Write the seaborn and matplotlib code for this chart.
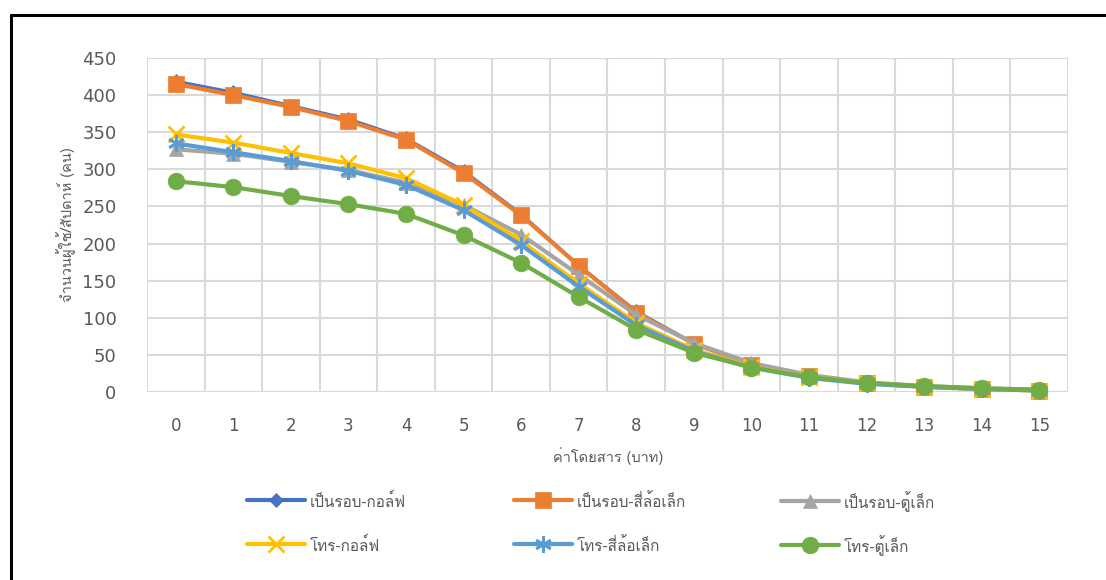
import matplotlib
matplotlib.use("Agg")
import matplotlib.pyplot as plt
from matplotlib import font_manager
from matplotlib.ft2font import FT2Font
from matplotlib.lines import Line2D
from matplotlib.ticker import MultipleLocator
import numpy as np
import pandas as pd
import seaborn as sns

# Fare levels (baht) and weekly riders for each scheme/vehicle combination
fares = list(range(16))
series_names = [
    "เป็นรอบ-กอล์ฟ", "เป็นรอบ-สี่ล้อเล็ก", "เป็นรอบ-ตู้เล็ก",
    "โทร-กอล์ฟ", "โทร-สี่ล้อเล็ก", "โทร-ตู้เล็ก",
]
round_golf = [419, 404, 386, 368, 342, 298, 240, 171, 109, 66, 38, 22, 13, 8, 4, 2]
round_pickup = [415, 400, 384, 365, 340, 295, 238, 170, 107, 65, 37, 21, 12, 7, 4, 2]
round_van = [327, 321, 310, 299, 282, 252, 212, 158, 104, 66, 39, 23, 13, 8, 5, 3]
call_golf = [347, 336, 322, 308, 288, 252, 203, 146, 93, 57, 34, 20, 12, 7, 4, 2]
call_pickup = [335, 323, 311, 298, 279, 245, 198, 142, 90, 55, 33, 19, 11, 7, 4, 2]
call_van = [284, 276, 264, 253, 240, 211, 174, 128, 84, 53, 33, 20, 12, 8, 5, 3]
all_series = [round_golf, round_pickup, round_van, call_golf, call_pickup, call_van]

x_label = "ค่าโดยสาร (บาท)"
y_label = "จำนวนผู้ใช้/สัปดาห์ (คน)"

colors = ["#4472C4", "#ED7D31", "#A5A5A5", "#FFC000", "#5B9BD5", "#70AD47"]
# Asterisk marker: six thin arms
markers = ["D", "s", "^", "x", (6, 2, 0), "o"]
marker_sizes = [7, 11, 10, 11, 12, 12]
edge_widths = [0.5, 0.5, 0.5, 2.0, 2.0, 0.5]
line_widths = [2.0, 3.0, 3.0, 3.0, 3.0, 3.0]

sns.set_theme(style="white")


def pick_thai_font():
    """Return the first installed family that covers Thai script."""
    preferred = []
    others = []
    for f in font_manager.fontManager.ttflist:
        try:
            cmap = FT2Font(f.fname).get_charmap()
        except Exception:
            continue
        if 0x0E01 in cmap and 0x0E49 in cmap:
            if "sans" in f.name.lower() or "loma" in f.name.lower():
                preferred.append(f.name)
            else:
                others.append(f.name)
    for group in (preferred, others):
        if group:
            return group[0]
    return None


thai_font = pick_thai_font()
families = ([thai_font] if thai_font else []) + ["DejaVu Sans"]
plt.rcParams["font.family"] = families

text_gray = "#595959"
grid_gray = "#D9D9D9"

df = pd.DataFrame({"fare": fares})
for name, vals in zip(series_names, all_series):
    df[name] = vals

fig = plt.figure(figsize=(11.06, 5.80), dpi=100)
ax = fig.add_axes([147 / 1106, 1 - 392 / 580, (1068 - 147) / 1106, (392 - 58) / 580])

for name, col, mk, ms, mew, lw in zip(series_names, colors, markers,
                                      marker_sizes, edge_widths, line_widths):
    sns.lineplot(data=df, x="fare", y=name, ax=ax, color=col, marker=mk,
                 markersize=ms, linewidth=lw, markeredgecolor=col,
                 markeredgewidth=mew, legend=False, clip_on=False)

ax.set_xlim(-0.5, 15.5)
ax.set_ylim(0, 450)
ax.yaxis.set_major_locator(MultipleLocator(50))
ax.set_xticks(fares)
ax.set_xticklabels([str(v) for v in fares])
ax.set_xticks(np.arange(-0.5, 16, 1.0), minor=True)
ax.grid(True, which="major", axis="y", color=grid_gray, linewidth=1.5)
ax.grid(True, which="minor", axis="x", color=grid_gray, linewidth=1.5)
ax.grid(False, which="major", axis="x")
ax.set_axisbelow(True)
for s in ax.spines.values():
    s.set_visible(False)
ax.tick_params(axis="both", which="both", length=0)
ax.tick_params(axis="y", labelsize=13, labelcolor=text_gray, pad=22)
ax.tick_params(axis="x", labelsize=12, labelcolor=text_gray, pad=18)
for lab in ax.get_xticklabels() + ax.get_yticklabels():
    lab.set_family(["DejaVu Sans"])

ax.set_xlabel("")
ax.set_ylabel("")
fig.text(608 / 1106, 1 - 456 / 580, x_label, ha="center", va="center",
         fontsize=10.5, color=text_gray)
fig.text(66 / 1106, 1 - 225 / 580, y_label, ha="center", va="center",
         rotation=90, fontsize=10.5, color=text_gray)

# Legend: three equal-width columns, two rows; one entry per box so rows line up
col_x = [247, 514, 781]
row_y = [502, 546]
for i, name in enumerate(series_names):
    r, c = divmod(i, 3)
    handle = Line2D([], [], color=colors[i], marker=markers[i],
                    markersize=marker_sizes[i], linewidth=3.0,
                    markeredgecolor=colors[i], markeredgewidth=edge_widths[i])
    leg = fig.legend([handle], [name], loc="center left",
                     bbox_to_anchor=(col_x[c] / 1106, 1 - row_y[r] / 580),
                     frameon=False, fontsize=11, handlelength=3.8,
                     handleheight=1.6, handletextpad=0.3, borderpad=0,
                     borderaxespad=0)
    for t in leg.get_texts():
        t.set_color(text_gray)

# Outer chart frame (left and top edges)
fig.add_artist(Line2D([11 / 1106, 11 / 1106], [0, 1 - 15 / 580],
                      transform=fig.transFigure, color="black", linewidth=2.2))
fig.add_artist(Line2D([11 / 1106, 1105 / 1106], [1 - 15 / 580, 1 - 15 / 580],
                      transform=fig.transFigure, color="black", linewidth=2.2))

fig.savefig("out.png", dpi=100, facecolor="white")
